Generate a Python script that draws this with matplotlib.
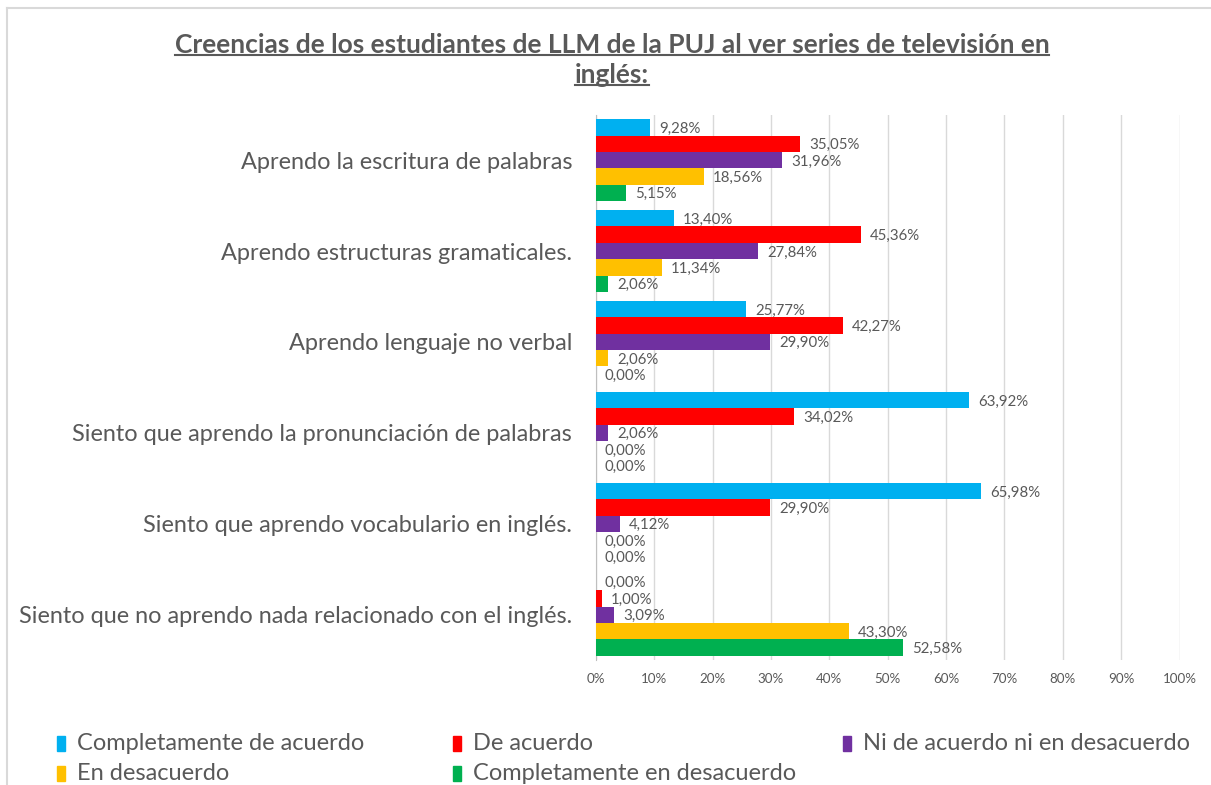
import matplotlib.pyplot as plt
from matplotlib.patches import Rectangle
from matplotlib.lines import Line2D

plt.rcParams['font.family'] = ['Lato', 'DejaVu Sans']

# data (percentages)
categories = [
    "Aprendo la escritura de palabras",
    "Aprendo estructuras gramaticales.",
    "Aprendo lenguaje no verbal",
    "Siento que aprendo la pronunciación de palabras",
    "Siento que aprendo vocabulario en inglés.",
    "Siento que no aprendo nada relacionado con el inglés.",
]
series_names = [
    "Completamente de acuerdo",
    "De acuerdo",
    "Ni de acuerdo ni en desacuerdo",
    "En desacuerdo",
    "Completamente en desacuerdo",
]
completamente_de_acuerdo = [9.28, 13.40, 25.77, 63.92, 65.98, 0.00]
de_acuerdo = [35.05, 45.36, 42.27, 34.02, 29.90, 1.00]
ni_ni = [31.96, 27.84, 29.90, 2.06, 4.12, 3.09]
en_desacuerdo = [18.56, 11.34, 2.06, 0.00, 0.00, 43.30]
completamente_en_desacuerdo = [5.15, 2.06, 0.00, 0.00, 0.00, 52.58]
x_ticks = [0, 10, 20, 30, 40, 50, 60, 70, 80, 90, 100]

series = [completamente_de_acuerdo, de_acuerdo, ni_ni, en_desacuerdo,
          completamente_en_desacuerdo]
colors = ["#00B0F0", "#FF0000", "#7030A0", "#FFC000", "#00B050"]
text_color = "#595959"

fig = plt.figure(figsize=(12.11, 7.85), dpi=100)
ax = fig.add_axes([0.492, 0.159, 0.482, 0.695])

# bars, five per category
bar_h = 0.18
for j, (vals, col) in enumerate(zip(series, colors)):
    for i, v in enumerate(vals):
        y = i + (j - 2) * bar_h
        ax.barh(y, v, height=bar_h, color=col, zorder=3)
        ax.annotate(f"{v:.2f}".replace(".", ",") + "%", (v, y),
                    xytext=(6.5, -1), textcoords="offset points",
                    va="center", ha="left", fontsize=10.8, color=text_color)

ax.set_xlim(0, 100)
ax.set_ylim(len(categories) - 0.5, -0.5)
ax.set_xticks(x_ticks)
ax.set_xticklabels([f"{t}%" for t in x_ticks], fontsize=9.6, color=text_color)
ax.set_yticks(range(len(categories)))
ax.set_yticklabels(categories, fontsize=16.9, color=text_color)
ax.tick_params(axis="both", length=0)
ax.tick_params(axis="y", pad=17)
ax.tick_params(axis="x", pad=9)
ax.grid(axis="x", color="#D9D9D9", linewidth=1, zorder=0)
for s in ["top", "right", "bottom"]:
    ax.spines[s].set_visible(False)
ax.spines["left"].set_color("#BFBFBF")

# chart border (only top and left edges are inside the picture)
fig.lines.append(Line2D([7 / 1211, 1], [1 - 8 / 785, 1 - 8 / 785],
                        transform=fig.transFigure, color="#D9D9D9",
                        linewidth=1.5))
fig.lines.append(Line2D([7 / 1211, 7 / 1211], [0, 1 - 8 / 785],
                        transform=fig.transFigure, color="#D9D9D9",
                        linewidth=1.5))

# title with underline
t1 = fig.text(612 / 1211, 1 - 45 / 785,
              "Creencias de los estudiantes de LLM de la PUJ al ver series de televisión en",
              ha="center", va="center", fontsize=19, fontweight="bold",
              color=text_color)
t2 = fig.text(612 / 1211, 1 - 75 / 785, "inglés:", ha="center", va="center",
              fontsize=19, fontweight="bold", color=text_color)
fig.canvas.draw()
r = fig.canvas.get_renderer()
for t in (t1, t2):
    bb = t.get_window_extent(r).transformed(fig.transFigure.inverted())
    fig.lines.append(Line2D([bb.x0, bb.x1], [bb.y0 + 0.003, bb.y0 + 0.003],
                            transform=fig.transFigure, color=text_color,
                            linewidth=1.5))

# legend laid out like the original (row-wise, three columns)
leg_pos = [(57, 743), (453, 743), (843, 743), (57, 773), (453, 773)]
for name, col, (px, py) in zip(series_names, colors, leg_pos):
    fig.patches.append(Rectangle((px / 1211, 1 - (py + 8) / 785), 8 / 1211,
                                 15 / 785, transform=fig.transFigure,
                                 color=col))
    fig.text((px + 20) / 1211, 1 - py / 785, name, ha="left", va="center",
             fontsize=17, color=text_color)

fig.savefig("out.png", dpi=100)
